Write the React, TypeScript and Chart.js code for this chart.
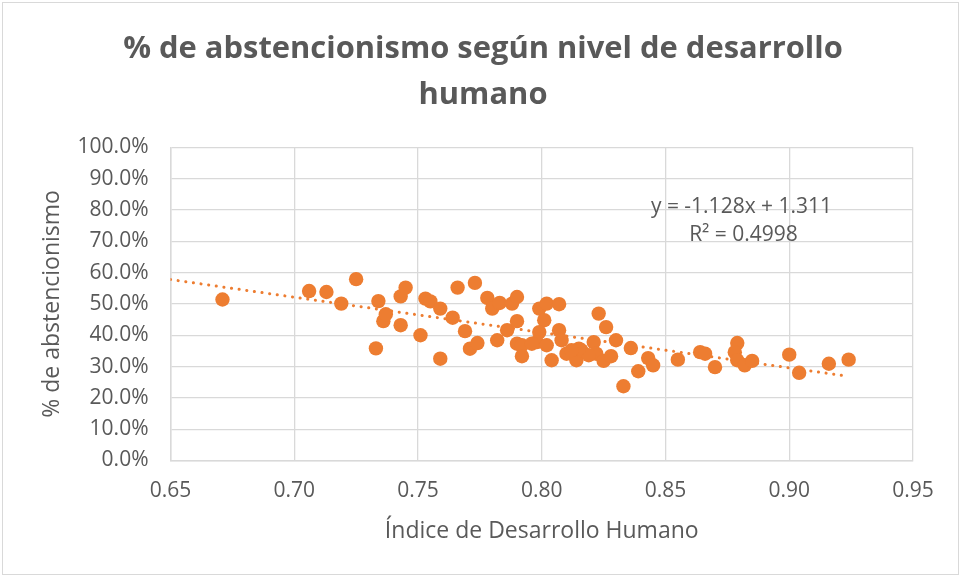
import React, { useEffect, useRef } from "react";
import { Chart, registerables } from "chart.js";

Chart.register(...registerables);

// ---------- data ----------
const titleLines = ["% de abstencionismo según nivel de desarrollo", "humano"];
const xAxisTitle = "Índice de Desarrollo Humano";
const yAxisTitle = "% de abstencionismo";
const equationLines = ["y = -1.128x + 1.311", "R² = 0.4998"];

const idhValues = [
  0.671, 0.706, 0.713, 0.719, 0.725, 0.733, 0.734, 0.736, 0.737, 0.743,
  0.743, 0.745, 0.751, 0.753, 0.755, 0.759, 0.759, 0.764, 0.766, 0.769,
  0.771, 0.773, 0.774, 0.778, 0.780, 0.783, 0.782, 0.786, 0.788, 0.790,
  0.790, 0.790, 0.792, 0.792, 0.799, 0.802, 0.807, 0.801, 0.799, 0.798,
  0.802, 0.804, 0.807, 0.808, 0.810, 0.814, 0.816, 0.821, 0.822, 0.823,
  0.825, 0.826, 0.828, 0.830, 0.836, 0.839, 0.833, 0.843, 0.845, 0.855,
  0.864, 0.866, 0.870, 0.879, 0.878, 0.879, 0.882, 0.885, 0.900, 0.904,
  0.916, 0.924, 0.819, 0.815, 0.796, 0.812,
];
const abstencionValues = [
  0.514, 0.541, 0.538, 0.501, 0.579, 0.358, 0.509, 0.445, 0.467, 0.432,
  0.524, 0.552, 0.400, 0.517, 0.508, 0.485, 0.325, 0.456, 0.552, 0.413,
  0.357, 0.567, 0.375, 0.519, 0.485, 0.503, 0.384, 0.416, 0.501, 0.522,
  0.445, 0.373, 0.368, 0.333, 0.485, 0.501, 0.499, 0.448, 0.410, 0.378,
  0.368, 0.320, 0.416, 0.384, 0.341, 0.320, 0.352, 0.378, 0.341, 0.469,
  0.318, 0.426, 0.333, 0.384, 0.359, 0.285, 0.237, 0.327, 0.304, 0.322,
  0.346, 0.341, 0.298, 0.375, 0.346, 0.320, 0.304, 0.318, 0.338, 0.280,
  0.309, 0.322, 0.336, 0.357, 0.373, 0.352,
];

const trendSlope = -1.128;
const trendIntercept = 1.311;
const trendXRange = [0.65, 0.9235];

const xMin = 0.65, xMax = 0.95, xStep = 0.05;
const yMin = 0, yMax = 1, yStep = 0.1;

// ---------- styles ----------
const ORANGE = "#ED7D31";
const TEXT = "#595959";
const GRID = "#D9D9D9";
const FONT = '"Open Sans", "Noto Sans", sans-serif';

const decorPlugin = {
  id: "decor",
  beforeDraw(chart: any) {
    const { ctx, width, height } = chart;
    ctx.save();
    ctx.fillStyle = "#ffffff";
    ctx.fillRect(0, 0, width, height);
    ctx.strokeStyle = GRID;
    ctx.lineWidth = 1;
    ctx.strokeRect(2.5, 2.5, width - 5, height - 5);
    ctx.restore();
  },
  afterDraw(chart: any) {
    const { ctx, chartArea } = chart;
    ctx.save();
    // title
    ctx.font = `bold 100px ${FONT}`;
    const w = ctx.measureText(titleLines[0]).width;
    const size = (100 * 720) / w;
    ctx.font = `bold ${size}px ${FONT}`;
    ctx.fillStyle = TEXT;
    ctx.textAlign = "center";
    ctx.textBaseline = "alphabetic";
    ctx.fillText(titleLines[0], 483, 58);
    ctx.fillText(titleLines[1], 483, 104);
    // regression equation
    ctx.font = `21px ${FONT}`;
    ctx.textBaseline = "middle";
    const ex = chartArea.left + 571;
    ctx.fillText(equationLines[0], ex, 207);
    ctx.fillText(equationLines[1], ex + 2, 235);
    ctx.restore();
  },
};

export default function App() {
  const ref = useRef<HTMLCanvasElement | null>(null);

  useEffect(() => {
    if (!ref.current) return;
    const points = idhValues.map((x, i) => ({ x, y: abstencionValues[i] }));
    const trend = trendXRange.map((x) => ({ x, y: trendSlope * x + trendIntercept }));

    const chart = new Chart(ref.current, {
      type: "scatter",
      data: {
        datasets: [
          {
            label: "Abstencionismo",
            data: points,
            backgroundColor: ORANGE,
            borderColor: ORANGE,
            borderWidth: 0,
            pointRadius: 7.2,
            order: 1,
          },
          {
            label: "Tendencia",
            type: "line",
            data: trend,
            showLine: true,
            borderColor: ORANGE,
            borderWidth: 3,
            borderDash: [0.1, 7.6],
            borderCapStyle: "round",
            pointRadius: 0,
            fill: false,
            order: 2,
          } as any,
        ],
      },
      options: {
        animation: false,
        responsive: false,
        layout: { padding: { left: 0, right: 48, top: 147.3, bottom: 0 } },
        plugins: {
          legend: { display: false },
          title: { display: false },
          tooltip: { enabled: false },
        },
        scales: {
          x: {
            type: "linear",
            min: xMin,
            max: xMax,
            ticks: {
              stepSize: xStep,
              color: TEXT,
              font: { family: FONT, size: 21 },
              padding: 18,
              callback: (v: any) => Number(v).toFixed(2),
            },
            grid: { color: GRID, lineWidth: 1.3, drawTicks: false },
            border: { color: GRID, width: 1.5 },
            title: {
              display: true,
              text: xAxisTitle,
              color: TEXT,
              font: { family: FONT, size: 23 },
              padding: { top: 0, bottom: 32 },
            },
            afterFit: (s: any) => {
              s.height = 116.5;
            },
          },
          y: {
            type: "linear",
            min: yMin,
            max: yMax,
            ticks: {
              stepSize: yStep,
              color: TEXT,
              font: { family: FONT, size: 21 },
              padding: 22,
              callback: (v: any) => (Number(v) * 100).toFixed(1) + "%",
            },
            grid: { color: GRID, lineWidth: 1.3, drawTicks: false },
            border: { color: GRID, width: 1.5 },
            title: {
              display: true,
              text: yAxisTitle,
              color: TEXT,
              font: { family: FONT, size: 23 },
              padding: { top: 39, bottom: 0 },
            },
            afterFit: (s: any) => {
              s.width = 170.5;
            },
          },
        },
      },
      plugins: [decorPlugin],
    });
    return () => chart.destroy();
  }, []);

  return (
    <div style={{ position: "absolute", left: 0, top: 0, width: 961, height: 577 }}>
      <canvas ref={ref} width={961} height={577} />
    </div>
  );
}
